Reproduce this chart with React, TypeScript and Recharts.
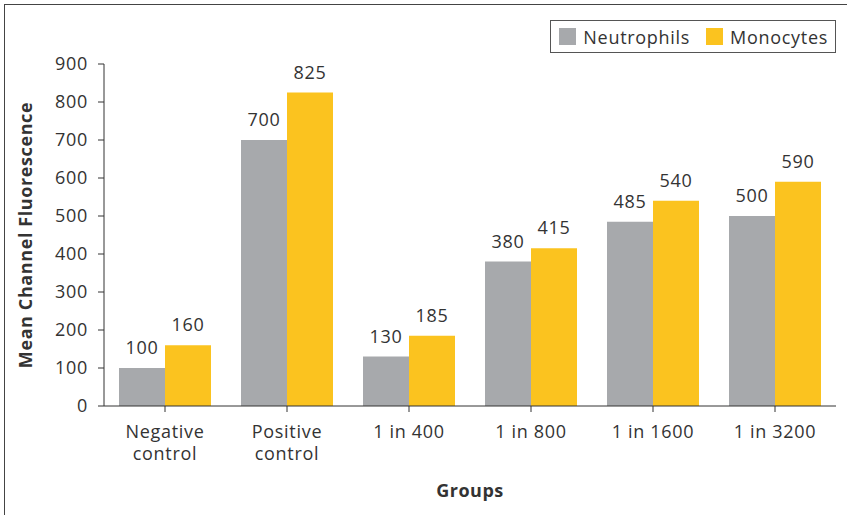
import React from 'react';
import {
  BarChart,
  Bar,
  XAxis,
  YAxis,
  LabelList,
} from 'recharts';

const groups = ['Negative control', 'Positive control', '1 in 400', '1 in 800', '1 in 1600', '1 in 3200'];
const neutrophils = [100, 700, 130, 380, 485, 500];
const monocytes = [160, 825, 185, 415, 540, 590];
const yTicks = [0, 100, 200, 300, 400, 500, 600, 700, 800, 900];

const FONT = '"Open Sans", sans-serif';
const TEXT = '#333333';
const GREY = '#A7A9AC';
const YELLOW = '#FBC31F';
const SPACING = '0.7px';

const data = groups.map((group, i) => ({
  group,
  Neutrophils: neutrophils[i],
  Monocytes: monocytes[i],
}));

// split "Negative control" style labels on two lines
function GroupTick(props: any) {
  const { x, y, payload } = props;
  const words: string[] = payload.value.endsWith('control')
    ? [payload.value.replace(' control', ''), 'control']
    : [payload.value];
  return (
    <text x={x} y={y + 6} textAnchor="middle" fill={TEXT} fontSize={18} fontFamily={FONT} letterSpacing={SPACING}>
      {words.map((w, i) => (
        <tspan key={w} x={x} dy={i === 0 ? 18 : 22}>{w}</tspan>
      ))}
    </text>
  );
}

function LegendBox() {
  const items = [
    { name: 'Neutrophils', color: GREY },
    { name: 'Monocytes', color: YELLOW },
  ];
  return (
    <div
      style={{
        position: 'absolute',
        top: 20,
        right: 11,
        height: 33,
        boxSizing: 'border-box',
        display: 'flex',
        alignItems: 'center',
        border: '1px solid #555',
        padding: '0 7px 0 8px',
        fontFamily: FONT,
        fontSize: 18,
        letterSpacing: SPACING,
        color: TEXT,
        background: '#fff',
      }}
    >
      {items.map((it, i) => (
        <span key={it.name} style={{ display: 'flex', alignItems: 'center', marginLeft: i ? 16 : 0 }}>
          <span style={{ width: 17, height: 17, background: it.color, marginRight: 7 }} />
          {it.name}
        </span>
      ))}
    </div>
  );
}

export default function App() {
  return (
    <div style={{ position: 'absolute', left: 0, top: 0, width: 847, height: 515, overflow: 'hidden', background: '#fff' }}>
      <div
        style={{
          position: 'absolute',
          left: 4,
          top: 4,
          width: 870,
          height: 540,
          borderLeft: '1px solid #444',
          borderTop: '1px solid #444',
        }}
      />
      <div style={{ position: 'absolute', left: 0, top: 0 }}>
        <BarChart
          width={847}
          height={515}
          data={data}
          margin={{ top: 64, right: 11, left: 14, bottom: 0 }}
          barCategoryGap={15}
          barGap={0}
        >
          <XAxis
            dataKey="group"
            axisLine={{ stroke: TEXT }}
            tickLine={{ stroke: TEXT }}
            tickSize={6}
            interval={0}
            tick={<GroupTick />}
            height={109}
            label={{
              value: 'Groups',
              position: 'insideBottom',
              offset: 18,
              fill: TEXT,
              fontSize: 18,
              fontWeight: 700,
              fontFamily: FONT,
              letterSpacing: '0.5px',
            }}
          />
          <YAxis
            domain={[0, 900]}
            ticks={yTicks}
            width={90}
            axisLine={{ stroke: TEXT }}
            tickLine={{ stroke: TEXT }}
            tickSize={6}
            tickMargin={10}
            tick={{ fill: TEXT, fontSize: 18, fontFamily: FONT, letterSpacing: SPACING }}
            label={{
              value: 'Mean Channel Fluorescence',
              angle: -90,
              position: 'insideLeft',
              offset: 12,
              style: { textAnchor: 'middle' },
              fill: TEXT,
              fontSize: 18,
              fontWeight: 700,
              fontFamily: FONT,
              letterSpacing: '0.6px',
            }}
          />
          <Bar dataKey="Neutrophils" fill={GREY} isAnimationActive={false}>
            <LabelList dataKey="Neutrophils" position="top" offset={14} fill={TEXT} fontSize={18} fontFamily={FONT} letterSpacing={SPACING} />
          </Bar>
          <Bar dataKey="Monocytes" fill={YELLOW} isAnimationActive={false}>
            <LabelList dataKey="Monocytes" position="top" offset={14} fill={TEXT} fontSize={18} fontFamily={FONT} letterSpacing={SPACING} />
          </Bar>
        </BarChart>
      </div>
      <LegendBox />
    </div>
  );
}
